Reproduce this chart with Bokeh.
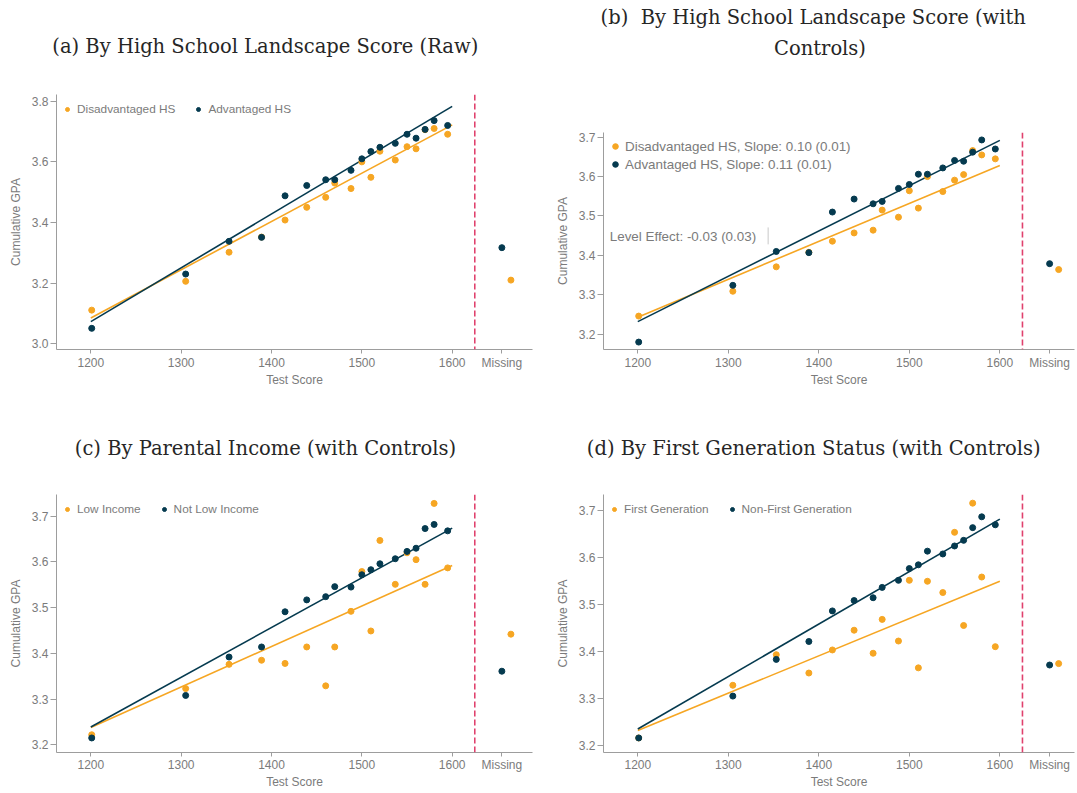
from bokeh.plotting import figure
from bokeh.layouts import column, row
from bokeh.models import (Range1d, FixedTicker, PrintfTickFormatter, Span, Label,
                          Legend, LegendItem, Title)
from bokeh.embed import file_html
from bokeh.resources import INLINE

# ---------------- data ----------------
scores = [1201, 1305, 1353, 1389, 1415, 1439, 1460, 1470, 1488, 1500,
          1510, 1520, 1537, 1550, 1560, 1570, 1580, 1595]
missing_tick = 1655          # category position of "Missing"
missing_dis_x = 1665         # orange "Missing" dot sits just right of the tick
cutoff_x = 1625              # dashed separator
fit_x = [1200, 1600]
x_ticks = [1200, 1300, 1400, 1500, 1600, missing_tick]

# (a) raw
a_dis = [3.111, 3.206, 3.302, 3.352, 3.408, 3.450, 3.483, 3.530, 3.512, 3.600,
         3.549, 3.635, 3.606, 3.650, 3.643, 3.706, 3.710, 3.691]
a_adv = [3.051, 3.230, 3.338, 3.351, 3.488, 3.522, 3.541, 3.541, 3.572, 3.610,
         3.634, 3.648, 3.661, 3.691, 3.678, 3.707, 3.736, 3.720]
a_miss_dis, a_miss_adv = 3.210, 3.317
a_fit_dis = [3.085, 3.722]
a_fit_adv = [3.073, 3.783]

# (b) with controls
b_dis = [3.246, 3.309, 3.371, 3.408, 3.436, 3.457, 3.464, 3.515, 3.497, 3.564,
         3.520, 3.600, 3.562, 3.591, 3.605, 3.666, 3.655, 3.645]
b_adv = [3.180, 3.324, 3.410, 3.407, 3.510, 3.543, 3.531, 3.537, 3.570, 3.580,
         3.606, 3.606, 3.622, 3.641, 3.639, 3.662, 3.693, 3.670]
b_miss_dis, b_miss_adv = 3.364, 3.379
b_fit_dis = [3.243, 3.628]
b_fit_adv = [3.232, 3.692]

# (c) parental income
c_dis = [3.222, 3.323, 3.376, 3.385, 3.378, 3.414, 3.329, 3.414, 3.492, 3.579,
         3.449, 3.647, 3.551, 3.620, 3.605, 3.551, 3.728, 3.587]
c_adv = [3.215, 3.308, 3.392, 3.414, 3.491, 3.517, 3.524, 3.546, 3.545, 3.572,
         3.583, 3.596, 3.607, 3.623, 3.630, 3.673, 3.682, 3.668]
c_miss_dis, c_miss_adv = 3.442, 3.361
c_fit_dis = [3.238, 3.592]
c_fit_adv = [3.239, 3.674]

# (d) first generation
d_dis = [3.216, 3.328, 3.393, 3.354, 3.403, 3.445, 3.396, 3.468, 3.422, 3.551,
         3.365, 3.549, 3.525, 3.653, 3.455, 3.715, 3.558, 3.410]
d_adv = [3.216, 3.305, 3.383, 3.421, 3.486, 3.508, 3.514, 3.536, 3.551, 3.576,
         3.584, 3.613, 3.607, 3.624, 3.636, 3.663, 3.686, 3.669]
d_miss_dis, d_miss_adv = 3.374, 3.371
d_fit_dis = [3.232, 3.549]
d_fit_adv = [3.235, 3.681]

level_text = "Level Effect: -0.03 (0.03)"
level_text_x, level_text_y = 1169, 3.447
level_bar_x, level_bar_y = 1344, [3.428, 3.471]

# ---------------- style ----------------
ORANGE = "#f6a623"
NAVY = "#053a4f"
DASH = "#e0416d"
TXT = "#7b7b7b"
AXC = "#9d9d9d"
SANS = "Liberation Sans"
SERIF = "DejaVu Serif"
TITLE_PX = 19.5
TITLE_H = 1.164 * TITLE_PX      # estimated text-box height of a title line

# layout: canvas (x, y, w, h) and frame (L, T, R, B), page pixels
specs = [
    dict(canvas=(0, 0, 540, 400), frame=(56, 94, 532, 349),
         xr=(1162.0, 1688.9), yr=(2.9812, 3.8221),
         yticks=[3.0, 3.2, 3.4, 3.6, 3.8],
         dis=a_dis, adv=a_adv, md=a_miss_dis, ma=a_miss_adv,
         fd=a_fit_dis, fa=a_fit_adv,
         labels=["Disadvantaged HS", "Advantaged HS"], vertical=False,
         # (text, left edge offset from frame left, centre y on page)
         titles=[("(a) By High School Landscape Score (Raw)", -4.2, 45)]),
    dict(canvas=(540, 0, 537, 400), frame=(603, 132, 1074, 349),
         xr=(1162.1, 1682.5), yr=(3.1612, 3.7119),
         yticks=[3.2, 3.3, 3.4, 3.5, 3.6, 3.7],
         dis=b_dis, adv=b_adv, md=b_miss_dis, ma=b_miss_adv,
         fd=b_fit_dis, fa=b_fit_adv,
         labels=["Disadvantaged HS, Slope: 0.10 (0.01)",
                 "Advantaged HS, Slope: 0.11 (0.01)"], vertical=True,
         titles=[("Controls)", 170.5, 47.5),
                 ("(b)\u00a0 By High School Landscape Score (with", -2.9, 17)]),
    dict(canvas=(0, 400, 540, 393), frame=(56, 494, 532, 752),
         xr=(1162.0, 1688.9), yr=(3.1832, 3.7475),
         yticks=[3.2, 3.3, 3.4, 3.5, 3.6, 3.7],
         dis=c_dis, adv=c_adv, md=c_miss_dis, ma=c_miss_adv,
         fd=c_fit_dis, fa=c_fit_adv,
         labels=["Low Income", "Not Low Income"], vertical=False,
         titles=[("(c) By Parental Income (with Controls)", 18.3, 447)]),
    dict(canvas=(540, 400, 537, 393), frame=(603, 494, 1074, 752),
         xr=(1162.1, 1682.5), yr=(3.1851, 3.7334),
         yticks=[3.2, 3.3, 3.4, 3.5, 3.6, 3.7],
         dis=d_dis, adv=d_adv, md=d_miss_dis, ma=d_miss_adv,
         fd=d_fit_dis, fa=d_fit_adv,
         labels=["First Generation", "Non-First Generation"], vertical=False,
         titles=[("(d) By First Generation Status (with Controls)", -16.7, 447)]),
]


def spacer(height):
    # blank (white, non-breaking space) title used only to open vertical room
    px = 10 if height > 14 else 2
    h = 1.15 * px
    return Title(text="\u00a0", text_color="white", text_font=SANS,
                 text_font_size=f"{px}px",
                 standoff=max(0.0, height - 2 - h))


def make_panel(s, idx):
    cx, cy, cw, ch = s["canvas"]
    L, T, R, B = s["frame"]
    x0, x1 = s["xr"]
    y0, y1 = s["yr"]
    p = figure(width=cw, height=ch, x_range=Range1d(x0, x1), y_range=Range1d(y0, y1),
               output_backend="svg", toolbar_location=None,
               min_border_left=L - cx, min_border_right=cx + cw - R,
               min_border_top=T - cy, min_border_bottom=cy + ch - B)
    p.title.visible = False
    p.grid.visible = False
    p.outline_line_color = None
    p.background_fill_color = "white"
    p.border_fill_color = "white"

    # axes
    xa = p.xaxis[0]
    xa.ticker = FixedTicker(ticks=x_ticks)
    xa.major_label_overrides = {missing_tick: "Missing"}
    xa.axis_label = "Test Score"
    xa.major_tick_out = 4
    xa.major_tick_in = 0
    xa.minor_tick_out = 0
    xa.minor_tick_in = 0
    xa.major_label_standoff = 2 if idx < 2 else 1
    xa.axis_label_standoff = 0

    ya = p.yaxis[0]
    ya.ticker = FixedTicker(ticks=s["yticks"])
    ya.formatter = PrintfTickFormatter(format="%.1f")
    ya.axis_label = "Cumulative GPA"
    ya.major_tick_out = 6
    ya.major_tick_in = 0
    ya.minor_tick_out = 0
    ya.minor_tick_in = 0
    ya.major_label_standoff = 2
    ya.axis_label_standoff = 6

    for ax in (xa, ya):
        ax.axis_line_color = AXC
        ax.major_tick_line_color = AXC
        ax.major_label_text_color = TXT
        ax.major_label_text_font = SANS
        ax.major_label_text_font_size = "12px"
        ax.axis_label_text_color = TXT
        ax.axis_label_text_font = SANS
        ax.axis_label_text_font_size = "12px"
        ax.axis_label_text_font_style = "normal"

    # separator
    p.add_layout(Span(location=cutoff_x, dimension="height", line_color=DASH,
                      line_width=1.6, line_dash="6 3"))

    # fit lines
    p.line(fit_x, s["fd"], color=ORANGE, line_width=1.6)
    p.line(fit_x, s["fa"], color=NAVY, line_width=1.6)

    # points
    r_dis = p.scatter(scores, s["dis"], size=6, color=ORANGE)
    r_adv = p.scatter(scores, s["adv"], size=6, color=NAVY)
    p.scatter([missing_dis_x], [s["md"]], size=6, color=ORANGE)
    p.scatter([missing_tick], [s["ma"]], size=6, color=NAVY)

    items = [LegendItem(label=s["labels"][0], renderers=[r_dis]),
             LegendItem(label=s["labels"][1], renderers=[r_adv])]
    if s["vertical"]:
        leg = Legend(items=items, location="top_left", orientation="vertical",
                     padding=0, margin=5, spacing=0, glyph_width=14, glyph_height=18,
                     label_height=18, label_standoff=3,
                     label_text_font_size="13.4px")
    else:
        leg = Legend(items=items, location="top_left", orientation="horizontal",
                     padding=0, margin=6, spacing=18, glyph_width=10, glyph_height=18,
                     label_height=18, label_standoff=5,
                     label_text_font_size="11.8px")
    leg.label_text_font = SANS
    leg.label_text_color = TXT
    leg.border_line_color = None
    leg.background_fill_alpha = 0
    p.add_layout(leg)

    if idx == 1:
        p.add_layout(Label(x=level_text_x, y=level_text_y, text=level_text,
                           text_baseline="middle", text_align="left",
                           text_font=SANS, text_font_size="13.4px", text_color=TXT))
        p.segment(x0=[level_bar_x], y0=[level_bar_y[0]], x1=[level_bar_x],
                  y1=[level_bar_y[1]], color="#c8c8c8", line_width=1)

    # titles stacked above the frame (first entry is closest to the frame)
    edge = T  # current bottom edge (page y) of the next panel in the stack
    for text, off, cy_title in s["titles"]:
        bottom_wanted = cy_title + TITLE_H / 2
        gap = edge - bottom_wanted
        if gap > 4:
            p.add_layout(spacer(gap), "above")
        p.add_layout(Title(text=text, align="left", offset=off, standoff=0,
                           vertical_align="bottom", text_font=SERIF,
                           text_font_size=f"{TITLE_PX}px", text_font_style="normal",
                           text_color="#262626"), "above")
        edge = bottom_wanted - TITLE_H - 2
    return p


panels = [make_panel(s, i) for i, s in enumerate(specs)]
layout = row(column(panels[0], panels[2]), column(panels[1], panels[3]))

open("out.html", "w").write(file_html(layout, INLINE))
